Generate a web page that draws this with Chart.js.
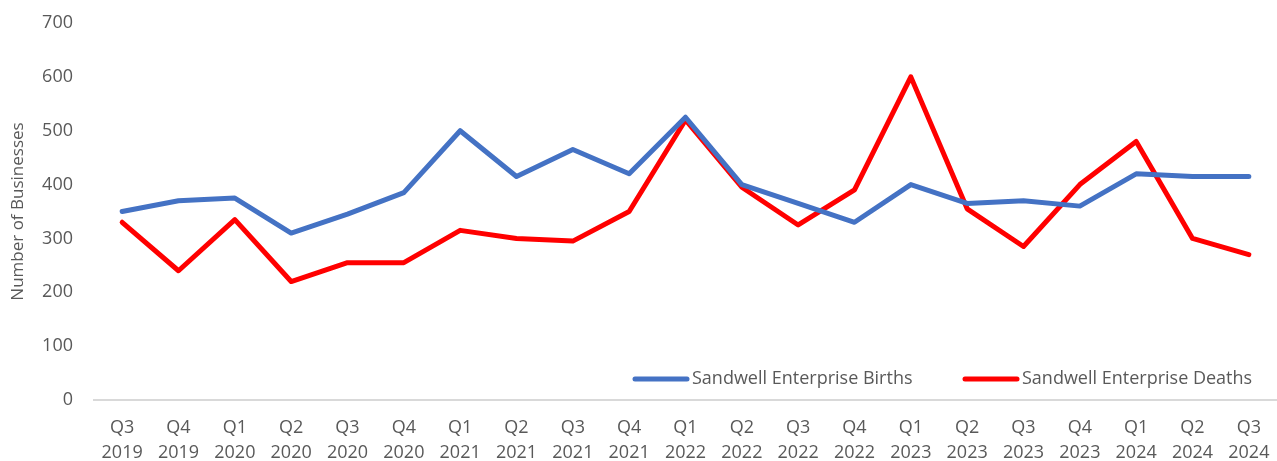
<!DOCTYPE html>
<html>
<head>
<meta charset="utf-8">
<script src="https://cdn.jsdelivr.net/npm/chart.js@4"></script>
<style>
  html, body { margin: 0; padding: 0; background: #fff; }
  #wrap { width: 1277px; height: 461px; }
</style>
</head>
<body>
<div id="wrap"><canvas id="chart"></canvas></div>
<script>
// quarters along the x axis
const quarters = ['Q3','Q4','Q1','Q2','Q3','Q4','Q1','Q2','Q3','Q4','Q1','Q2','Q3','Q4','Q1','Q2','Q3','Q4','Q1','Q2','Q3'];
const years = ['2019','2019','2020','2020','2020','2020','2021','2021','2021','2021','2022','2022','2022','2022','2023','2023','2023','2023','2024','2024','2024'];

const births = [350, 370, 375, 310, 345, 385, 500, 415, 465, 420, 525, 400, 365, 330, 400, 365, 370, 360, 420, 415, 415];
const deaths = [330, 240, 335, 220, 255, 255, 315, 300, 295, 350, 520, 395, 325, 390, 600, 355, 285, 400, 480, 300, 270];

const seriesNames = ['Sandwell Enterprise Births', 'Sandwell Enterprise Deaths'];
const yTicks = [0, 100, 200, 300, 400, 500, 600, 700];

const FONT = '"Open Sans", Lato, sans-serif';
const GREY = '#595959';

// legend sits inside the plot, bottom right, like the Excel original
const insideLegend = {
  id: 'insideLegend',
  afterDraw(chart) {
    const ctx = chart.ctx;
    const area = chart.chartArea;
    const y = area.bottom - 21;
    const items = [
      { x: 635, ds: chart.data.datasets[0] },
      { x: 965, ds: chart.data.datasets[1] }
    ];
    ctx.save();
    ctx.font = '18px ' + FONT;
    ctx.textBaseline = 'middle';
    items.forEach(it => {
      ctx.strokeStyle = it.ds.borderColor;
      ctx.lineWidth = 5;
      ctx.lineCap = 'round';
      ctx.beginPath();
      ctx.moveTo(it.x, y);
      ctx.lineTo(it.x + 52, y);
      ctx.stroke();
      ctx.fillStyle = GREY;
      ctx.fillText(it.ds.label, it.x + 57, y);
    });
    ctx.restore();
  }
};

new Chart(document.getElementById('chart'), {
  type: 'line',
  data: {
    labels: quarters.map((q, i) => [q, years[i]]),
    datasets: [
      { label: seriesNames[0], data: births, borderColor: '#4472C4', backgroundColor: '#4472C4' },
      { label: seriesNames[1], data: deaths, borderColor: '#FF0000', backgroundColor: '#FF0000' }
    ]
  },
  options: {
    responsive: true,
    maintainAspectRatio: false,
    animation: false,
    elements: {
      line: { borderWidth: 5, tension: 0, borderCapStyle: 'round', borderJoinStyle: 'round' },
      point: { radius: 0, hoverRadius: 0 }
    },
    layout: { padding: { top: 23, right: 0, left: 0, bottom: 0 } },
    plugins: { legend: { display: false }, tooltip: { enabled: false } },
    scales: {
      x: {
        offset: true,
        afterFit: s => { s.height = 61; s.paddingLeft = 0; s.paddingRight = 0; },
        grid: { display: false, drawTicks: false },
        border: { display: true, color: '#d9d9d9', width: 2 },
        ticks: { color: GREY, font: { family: FONT, size: 18, lineHeight: 1.39 }, padding: 15, maxRotation: 0, autoSkip: false }
      },
      y: {
        min: 0,
        max: 700,
        afterBuildTicks: s => { s.ticks = yTicks.map(v => ({ value: v })); },
        afterFit: s => { s.width = 94; s.paddingTop = 0; s.paddingBottom = 0; },
        grid: { display: false, drawTicks: false },
        border: { display: false },
        ticks: { color: GREY, font: { family: FONT, size: 18 }, padding: 21 },
        title: { display: true, text: 'Number of Businesses', color: GREY, font: { family: FONT, size: 17 }, padding: { top: 8, bottom: 0 } }
      }
    }
  },
  plugins: [insideLegend]
});
</script>
</body>
</html>
